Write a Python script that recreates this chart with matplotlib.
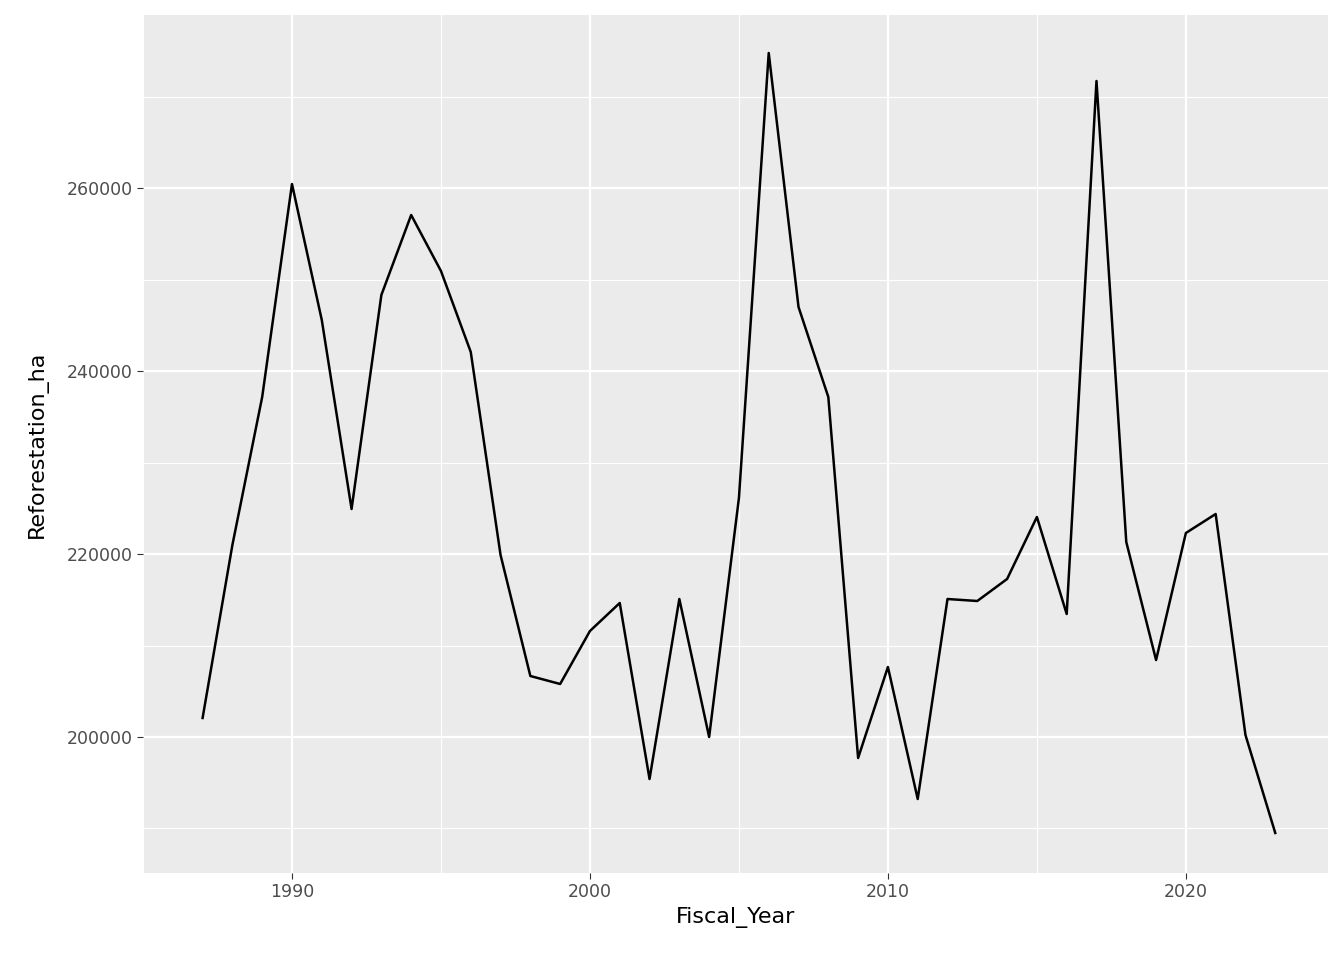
import matplotlib
matplotlib.use("Agg")
import matplotlib.pyplot as plt
import numpy as np

years = list(range(1987, 2024))
values = [202077, 220986, 237162, 260440, 245577, 224920, 248310, 257055, 250935, 242080,
          219893, 206667, 205793, 211586, 214646, 195409, 215083, 200000, 226122, 274761,
          247000, 237162, 197705, 207650, 193223, 215083, 214865, 217270, 224046, 213444,
          271700, 221313, 208416, 222297, 224374, 200219, 189507]
xticks = [1990, 2000, 2010, 2020]
yticks = [200000, 220000, 240000, 260000]

fig = plt.figure(figsize=(13.44, 9.6), dpi=100)
ax = fig.add_axes([143/1344, 1-873/960, (1328-143)/1344, (873-15)/960])
ax.set_facecolor('#EBEBEB')
ax.plot(years, values, color='black', lw=1.8, zorder=3)
ax.set_xlim(1985.23, 2024.77)
ax.set_ylim(185135, 278915)
ax.set_xticks(xticks)
ax.set_yticks(yticks)
ax.set_xticks([1985, 1995, 2005, 2015], minor=True)
ax.set_yticks([190000, 210000, 230000, 250000, 270000], minor=True)
ax.grid(which='major', color='white', lw=1.6)
ax.grid(which='minor', color='white', lw=0.8)
ax.set_axisbelow(True)
for s in ax.spines.values():
    s.set_visible(False)
ax.tick_params(which='both', length=4, color='#333333', labelsize=12.5, labelcolor='#4D4D4D')
ax.tick_params(which='minor', length=0)
ax.set_xlabel('Fiscal_Year', fontsize=16)
ax.set_ylabel('Reforestation_ha', fontsize=16)
ax.yaxis.set_label_coords(-95/1185, 0.5)
fig.savefig('out.png', dpi=100)
